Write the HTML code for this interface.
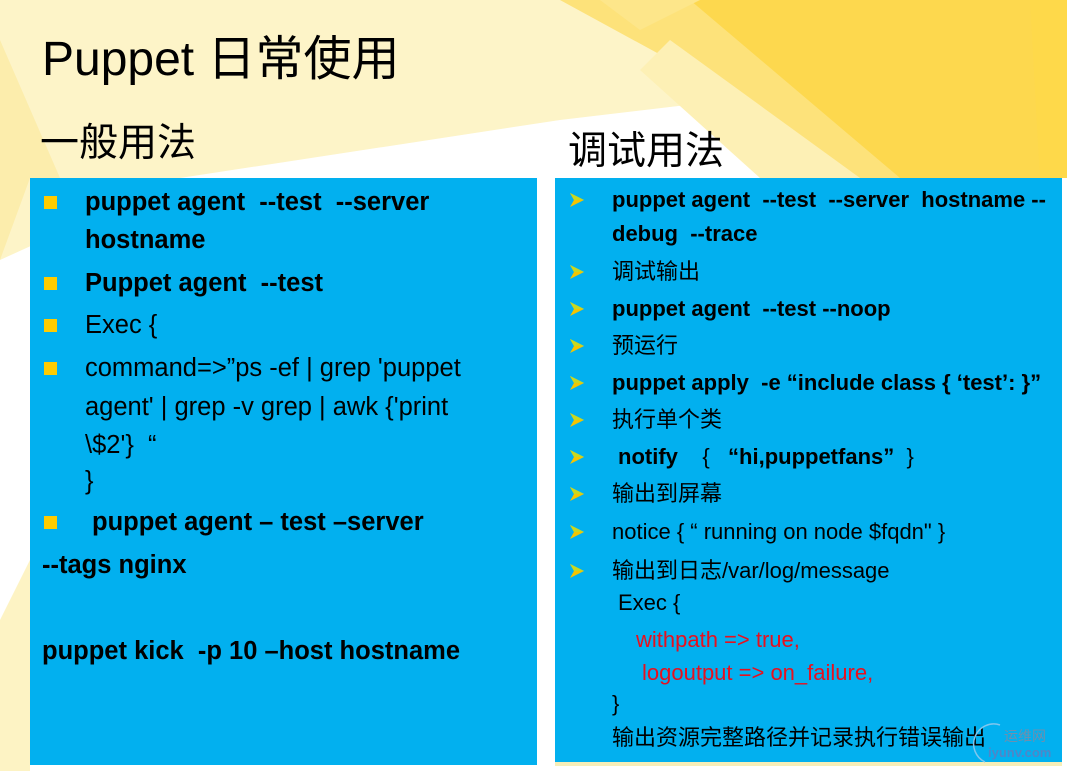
<!DOCTYPE html>
<html><head><meta charset="utf-8">
<style>
html,body{margin:0;padding:0}
body{width:1067px;height:771px;position:relative;overflow:hidden;background:#fff;font-family:"Liberation Sans","Noto Sans CJK SC",sans-serif;color:#000}
.t{position:absolute;white-space:nowrap}
.panel{position:absolute;background:#02b0ef}
.l{position:absolute;white-space:nowrap;font-size:25.5px;line-height:30px}
.r{position:absolute;white-space:nowrap;font-size:22px;line-height:26px}
b{font-weight:bold}
.sq{position:absolute;width:13px;height:13px;background:#ffcc00}
.red{color:#e8101e}
</style></head><body>
<svg width="1067" height="771" style="position:absolute;left:0;top:0">
<rect x="0" y="0" width="1067" height="771" fill="#fff"/>
<polygon points="0,0 1067,0 1067,60 560,120 180,178 0,260" fill="#fdf4c8"/>
<polygon points="0,40 0,260 30,178 60,178" fill="#fbe89a" opacity="0.6"/>
<polygon points="560,0 1067,0 1067,178 860,178 670,60" fill="#fde27a"/>
<polygon points="690,0 1067,0 1067,178 900,178" fill="#fdd84e"/>
<polygon points="600,0 700,0 640,30" fill="#fde68a"/>
<polygon points="670,40 860,178 760,178 640,70" fill="#fdf0b5"/>
<polygon points="1030,0 1067,0 1067,178 1040,178" fill="#fed94a"/>
<polygon points="0,620 30,560 30,771 0,771" fill="#fdf3c4"/>
</svg>
<div class="t" style="left:42px;top:29px;font-size:48px;line-height:62px">Puppet 日常使用</div>
<div class="t" style="left:40px;top:119px;font-size:39px;line-height:50px">一般用法</div>
<div class="t" style="left:568px;top:127px;font-size:39px;line-height:50px">调试用法</div>

<div class="panel" style="left:30px;top:178px;width:507px;height:587px"></div>
<div class="panel" style="left:555px;top:178px;width:507px;height:584px"></div>
<div style="position:absolute;left:555px;top:762px;width:507px;height:4px;background:#f7eeb8"></div>

<div class="sq" style="left:44px;top:196px"></div>
<div class="l" style="left:85px;top:187px"><b>puppet agent &nbsp;--test &nbsp;--server</b></div>
<div class="l" style="left:85px;top:225px"><b>hostname</b></div>
<div class="sq" style="left:44px;top:277px"></div>
<div class="l" style="left:85px;top:268px"><b>Puppet agent &nbsp;--test</b></div>
<div class="sq" style="left:44px;top:319px"></div>
<div class="l" style="left:85px;top:310px">Exec {</div>
<div class="sq" style="left:44px;top:362px"></div>
<div class="l" style="left:85px;top:353px">command=&gt;”ps -ef | grep 'puppet</div>
<div class="l" style="left:85px;top:392px">agent' | grep -v grep | awk {'print</div>
<div class="l" style="left:85px;top:430px">\$2'} &nbsp;“</div>
<div class="l" style="left:85px;top:466px">}</div>
<div class="sq" style="left:44px;top:516px"></div>
<div class="l" style="left:92px;top:507px"><b>puppet agent – test –server</b></div>
<div class="l" style="left:42px;top:550px"><b>--tags nginx</b></div>
<div class="l" style="left:42px;top:636px"><b>puppet kick &nbsp;-p 10 –host hostname</b></div>

<svg width="1067" height="771" style="position:absolute;left:0;top:0">
<defs><g id="ar"><polygon points="0,-7 14,0 0,7 4,0" fill="#f5c400"/><polygon points="0,-7 14,0 4,0" fill="#c8d820"/></g></defs>
<use href="#ar" x="570" y="200"/><use href="#ar" x="570" y="272"/><use href="#ar" x="570" y="309"/>
<use href="#ar" x="570" y="346"/><use href="#ar" x="570" y="383"/><use href="#ar" x="570" y="420"/>
<use href="#ar" x="570" y="457"/><use href="#ar" x="570" y="494"/><use href="#ar" x="570" y="532"/>
<use href="#ar" x="570" y="571"/>
</svg>
<div class="r" style="left:612px;top:187px"><b>puppet agent &nbsp;--test &nbsp;--server &nbsp;hostname --</b></div>
<div class="r" style="left:612px;top:221px"><b>debug &nbsp;--trace</b></div>
<div class="r" style="left:612px;top:259px">调试输出</div>
<div class="r" style="left:612px;top:296px"><b>puppet agent &nbsp;--test --noop</b></div>
<div class="r" style="left:612px;top:333px">预运行</div>
<div class="r" style="left:612px;top:370px"><b>puppet apply &nbsp;-e “include class { ‘test’: }”</b></div>
<div class="r" style="left:612px;top:407px">执行单个类</div>
<div class="r" style="left:618px;top:444px"><b>notify</b> &nbsp;&nbsp;&nbsp;{ &nbsp;&nbsp;<b>“hi,puppetfans”</b> &nbsp;}</div>
<div class="r" style="left:612px;top:481px">输出到屏幕</div>
<div class="r" style="left:612px;top:519px">notice { “ running on node $fqdn" }</div>
<div class="r" style="left:612px;top:558px">输出到日志/var/log/message</div>
<div class="r" style="left:618px;top:590px">Exec {</div>
<div class="r red" style="left:636px;top:627px">withpath =&gt; true,</div>
<div class="r red" style="left:642px;top:660px">logoutput =&gt; on_failure,</div>
<div class="r" style="left:612px;top:691px">}</div>
<div class="r" style="left:612px;top:725px">输出资源完整路径并记录执行错误输出</div>

<div class="t" style="left:1004px;top:726px;font-size:14px;color:#6f8fae">运维网</div>
<div class="t" style="left:988px;top:745px;font-size:13px;color:#4f86c8;font-weight:bold">iyunv.com</div>
<svg width="1067" height="771" style="position:absolute;left:0;top:0"><path d="M985,762 A20,20 0 0 1 1000,725" stroke="#7fc6ee" stroke-width="1.5" fill="none"/></svg>
</body></html>
